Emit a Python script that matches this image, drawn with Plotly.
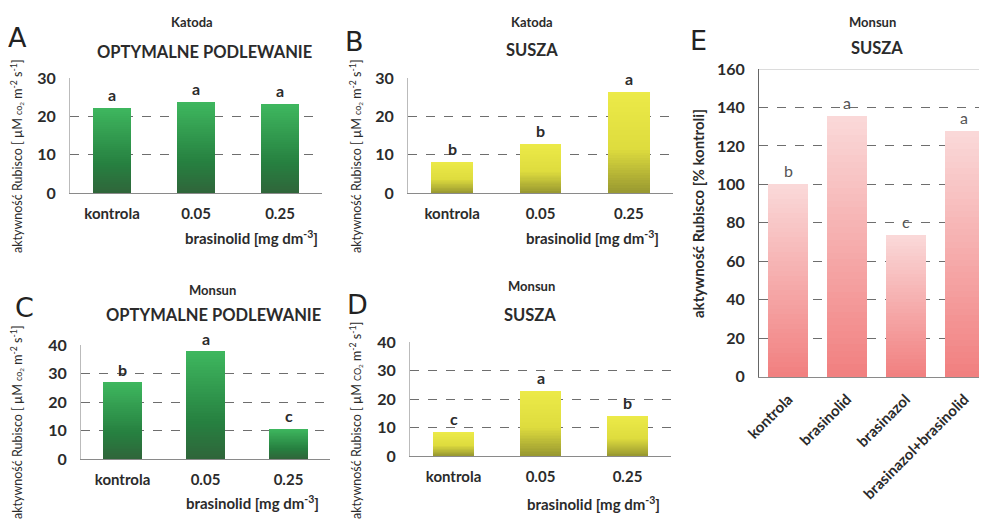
import plotly.graph_objects as go

# ---------------- data ----------------
dose_categories = ["kontrola", "0.05", "0.25"]
katoda_opt_values = [22.3, 23.7, 23.1]
katoda_opt_letters = ["a", "a", "a"]
katoda_susza_values = [8.2, 12.8, 26.4]
katoda_susza_letters = ["b", "b", "a"]
monsun_opt_values = [26.9, 37.8, 10.6]
monsun_opt_letters = ["b", "a", "c"]
monsun_susza_values = [8.3, 22.9, 14.1]
monsun_susza_letters = ["c", "a", "b"]
treatment_categories = ["kontrola", "brasinolid", "brasinazol", "brasinazol+brasinolid"]
monsun_pct_values = [100.0, 135.6, 73.7, 127.8]
monsun_pct_letters = ["b", "a", "c", "a"]

W, H = 987, 520
OFF = 8  # page body margin compensation
FONT = "Lato"
N_STEPS = 40

GREEN = [(0.0, (48, 100, 58)), (0.35, (38, 128, 64)), (1.0, (62, 182, 94))]
YELLOW = [(0.0, (150, 150, 48)), (0.45, (222, 220, 62)), (1.0, (236, 234, 72))]
PINK = [(0.0, (241, 126, 126)), (1.0, (250, 216, 216))]


def interp(stops, f):
    for (f0, c0), (f1, c1) in zip(stops[:-1], stops[1:]):
        if f <= f1:
            t = 0 if f1 == f0 else (f - f0) / (f1 - f0)
            return "rgb(%d,%d,%d)" % tuple(round(a + (b - a) * t) for a, b in zip(c0, c1))
    return "rgb(%d,%d,%d)" % stops[-1][1]


def px(x):
    return (x - OFF) / W


def py(y):
    return 1 - (y - OFF) / H


def dom_x(a, b):
    return [px(a), min(1.0, px(b))]


def dom_y(top, bottom):
    return [py(bottom), py(top)]


fig = go.Figure()
annotations = []
shapes = []


def add_panel(idx, cats, vals, letters, stops, width, xdom, ydom, yrange, dtick,
              xrange=None, letter_font=None, tickangle=0, yline="#bbbbbb"):
    xa = "x" if idx == 1 else "x%d" % idx
    ya = "y" if idx == 1 else "y%d" % idx
    for k in range(N_STEPS):
        frac = (N_STEPS - k) / N_STEPS
        fig.add_trace(go.Bar(
            x=cats, y=[v * frac for v in vals], width=width,
            marker=dict(color=interp(stops, frac), line=dict(width=0)),
            xaxis=xa, yaxis=ya, showlegend=False,
            hoverinfo="skip" if k else "x+y",
        ))
    xkey = "xaxis" if idx == 1 else "xaxis%d" % idx
    ykey = "yaxis" if idx == 1 else "yaxis%d" % idx
    xd = dict(domain=xdom, anchor=ya, type="category", showgrid=False, automargin=False,
              showline=True, linecolor="#8a8a8a", linewidth=1,
              ticks="outside", ticklen=7, tickcolor="rgba(0,0,0,0)",
              tickangle=tickangle,
              tickfont=dict(family=FONT, size=15, color="#2b2b2b", weight="bold"))
    if xrange is not None:
        xd["range"] = xrange
    yd = dict(domain=ydom, anchor=xa, range=yrange, dtick=dtick, automargin=False,
              showgrid=True, gridcolor="#6e6e6e", griddash="dash", gridwidth=1,
              zeroline=False, showline=True, linecolor=yline, linewidth=1,
              ticks="outside", ticklen=10, tickcolor="rgba(0,0,0,0)",
              tickfont=dict(family=FONT, size=16, color="#2b2b2b", weight="bold"))
    fig.update_layout(**{xkey: xd, ykey: yd})
    lf = letter_font or dict(family=FONT, size=16, color="#2b2b2b", weight="bold")
    for i, (v, l) in enumerate(zip(vals, letters)):
        annotations.append(dict(x=i, y=v, xref=xa, yref=ya, text=l, showarrow=False,
                                yanchor="bottom", yshift=2, font=lf))


add_panel(1, dose_categories, katoda_opt_values, katoda_opt_letters, GREEN, 0.45,
          dom_x(70, 322), dom_y(78, 193), [0, 30], 10)
add_panel(2, dose_categories, katoda_susza_values, katoda_susza_letters, YELLOW, 0.475,
          dom_x(408, 673), dom_y(78, 193), [0, 30], 10)
add_panel(3, dose_categories, monsun_opt_values, monsun_opt_letters, GREEN, 0.47,
          dom_x(81, 330), dom_y(345.3, 459.3), [0, 40], 10)
add_panel(4, dose_categories, monsun_susza_values, monsun_susza_letters, YELLOW, 0.47,
          dom_x(410, 671), dom_y(342.3, 456), [0, 40], 10)
add_panel(5, treatment_categories, monsun_pct_values, monsun_pct_letters, PINK, 0.68,
          dom_x(759, 995), dom_y(69, 376.7), [0, 160], 20, xrange=[-0.5, 3.52],
          letter_font=dict(family=FONT, size=16, color="#555555"), tickangle=-45,
          yline="#666666")

shapes.append(dict(type="line", xref="x5 domain", yref="y5", x0=0, x1=1, y0=160, y1=160,
                   line=dict(color="#d0d0d0", width=1.5)))


def txt(x, y, s, size, bold=False, color="#2b2b2b", angle=0):
    annotations.append(dict(x=px(x), y=py(y), xref="paper", yref="paper", text=s,
                            showarrow=False, xanchor="center", yanchor="middle",
                            textangle=angle,
                            font=dict(family=FONT, size=size, color=color,
                                      weight="bold" if bold else "normal")))


# panel letters
for lab, x, y in [("A", 17, 37), ("B", 354, 41), ("C", 24, 307), ("D", 357, 304), ("E", 698, 40)]:
    annotations.append(dict(x=px(x), y=py(y), xref="paper", yref="paper", text=lab,
                            showarrow=False, xanchor="center", yanchor="middle",
                            font=dict(family="DejaVu Sans", size=27, color="#222222",
                                      weight="normal")))

# titles
txt(192, 22, "Katoda", 13, True)
txt(204, 52, "OPTYMALNE PODLEWANIE", 16.5, True)
txt(532, 22, "Katoda", 13, True)
txt(532, 50, "SUSZA", 16.5, True)
txt(212, 290, "Monsun", 13, True)
txt(213, 315, "OPTYMALNE PODLEWANIE", 16.5, True)
txt(531, 286, "Monsun", 13, True)
txt(530, 315, "SUSZA", 16.5, True)
txt(872, 22, "Monsun", 13, True)
txt(877, 48, "SUSZA", 16.5, True)

# x axis titles
xt = "brasinolid [mg dm<sup>-3</sup>]"
txt(251, 237, xt, 15, True)
txt(592, 237, xt, 15, True)
txt(252, 502, xt, 15, True)
txt(593, 503, xt, 15, True)

# y axis titles
yl_small = "aktywność Rubisco [ µM <span style='font-size:9px'>co<sub>2</sub></span> m<sup>-2</sup> s<sup>-1</sup>]"
yl_caps = "aktywność Rubisco [ µM <span style='font-size:9px'>CO<sub>2</sub></span> m<sup>-2</sup> s<sup>-1</sup>]"
txt(16, 156, yl_small, 12.5, False, angle=-90)
txt(355, 156, yl_small, 12.5, False, angle=-90)
txt(16, 422, yl_small, 12.5, False, angle=-90)
txt(355, 421, yl_caps, 12.5, False, angle=-90)
txt(698, 214, "aktywność Rubisco [% kontroli]", 15, True, angle=-90)

fig.update_layout(
    width=W, height=H, margin=dict(l=0, r=0, t=0, b=0, pad=0, autoexpand=False),
    paper_bgcolor="white", plot_bgcolor="white",
    barmode="overlay", bargap=0,
    annotations=annotations, shapes=shapes,
    font=dict(family=FONT),
)

fig.write_html("out.html")
